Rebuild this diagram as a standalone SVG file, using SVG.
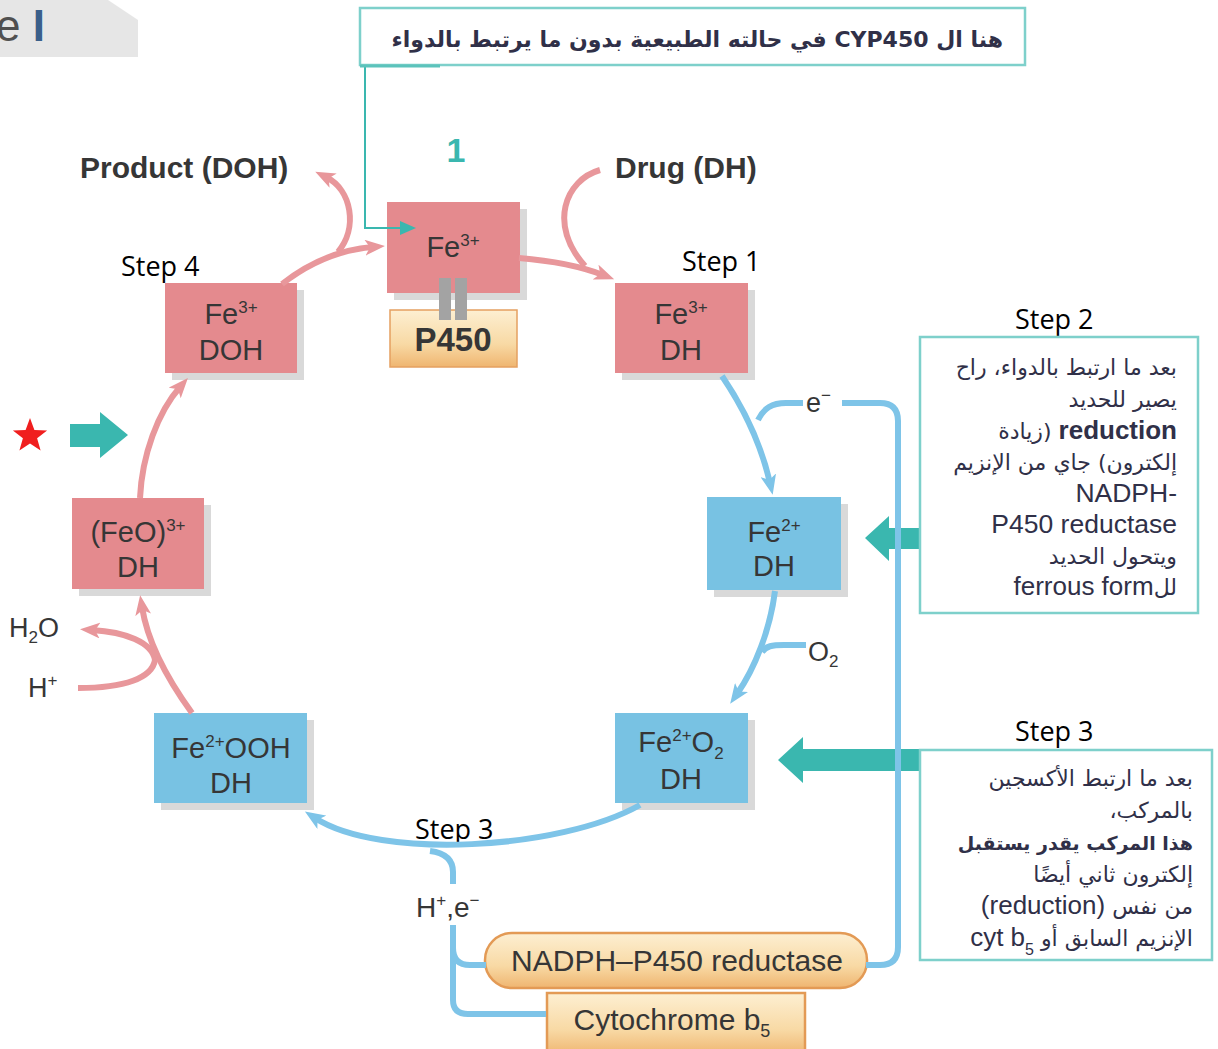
<svg xmlns="http://www.w3.org/2000/svg" width="1218" height="1049" viewBox="0 0 1218 1049">
<defs>
<style>
.t{font-family:"Liberation Sans","DejaVu Sans",sans-serif;fill:#363636}
.nd{font-size:29px;text-anchor:middle}
.lb{font-size:27px}
.sup{font-size:17px}
.pk{fill:#E48A8E}
.bl{fill:#78C2E3}
.sh{fill:#D9D9D9}
.cp{fill:none;stroke:#E8979B;stroke-width:6}
.cb{fill:none;stroke:#7EC4E8;stroke-width:6}
.step{font-family:"Open Sans","Liberation Sans",sans-serif;font-size:27px;fill:#000}
.ar{font-family:"DejaVu Sans",sans-serif;font-size:22px;fill:#303048;direction:rtl;text-anchor:start}
.en{font-family:"Liberation Sans",sans-serif;font-size:26.5px;fill:#303048;text-anchor:end}
.box{fill:#fff;stroke:#7ED0CB;stroke-width:2.5}
.teal{fill:#3AB7AF}
</style>
<marker id="ap" viewBox="0 0 20 16" refX="8" refY="8" markerWidth="20" markerHeight="16" markerUnits="userSpaceOnUse" orient="auto"><path d="M0,0 L20,8 L0,16 L5,8 z" fill="#E8979B"/></marker>
<marker id="ab" viewBox="0 0 20 16" refX="8" refY="8" markerWidth="20" markerHeight="16" markerUnits="userSpaceOnUse" orient="auto"><path d="M0,0 L20,8 L0,16 L5,8 z" fill="#7EC4E8"/></marker>
<marker id="at" viewBox="0 0 16 14" refX="4" refY="7" markerWidth="16" markerHeight="14" markerUnits="userSpaceOnUse" orient="auto"><path d="M0,0 L16,7 L0,14 z" fill="#3AB7AF"/></marker>
<linearGradient id="tan" x1="0" y1="0" x2="0" y2="1"><stop offset="0" stop-color="#FDEFD2"/><stop offset="0.6" stop-color="#F8D9A4"/><stop offset="1" stop-color="#EFB570"/></linearGradient>
</defs>
<rect width="1218" height="1049" fill="#fff"/>

<g id="tab">
<polygon points="0,0 108,0 138,20 138,57 0,57" fill="#E6E6E6"/>
<text x="-4" y="41" font-family="Liberation Sans,sans-serif" font-size="44"><tspan fill="#505050">e</tspan><tspan fill="#3A5F8A" font-weight="bold"> I</tspan></text>
</g>

<g id="banner">
<rect class="box" x="360" y="8" width="665" height="57"/>
<text class="ar" x="1003" y="47" font-weight="bold">هنا ال CYP450 في حالته الطبيعية بدون ما يرتبط بالدواء</text>
</g>

<g id="node-fe3-top">
<rect class="sh" x="394" y="209" width="133" height="91"/>
<rect class="pk" x="387" y="202" width="133" height="91"/>
<text class="t nd" x="453" y="257">Fe<tspan class="sup" dy="-11">3+</tspan></text>
</g>
<g id="node-p450">
<rect x="390" y="310" width="127" height="57" fill="url(#tan)" stroke="#E5A060" stroke-width="1.5"/>
<rect x="439" y="278" width="12" height="42" fill="#A3A3A3"/>
<rect x="455" y="278" width="12" height="42" fill="#A3A3A3"/>
<text class="t" x="453" y="351" font-size="33" font-weight="bold" text-anchor="middle">P450</text>
</g>
<g id="node-fe3-dh">
<rect class="sh" x="622" y="290" width="133" height="90"/>
<rect class="pk" x="615" y="283" width="133" height="90"/>
<text class="t nd" x="681" y="324">Fe<tspan class="sup" dy="-11">3+</tspan></text>
<text class="t nd" x="681" y="360">DH</text>
</g>
<g id="node-fe3-doh">
<rect class="sh" x="172" y="290" width="132" height="90"/>
<rect class="pk" x="165" y="283" width="132" height="90"/>
<text class="t nd" x="231" y="324">Fe<tspan class="sup" dy="-11">3+</tspan></text>
<text class="t nd" x="231" y="360">DOH</text>
</g>
<g id="node-feo-dh">
<rect class="sh" x="79" y="505" width="132" height="91"/>
<rect class="pk" x="72" y="498" width="132" height="91"/>
<text class="t nd" x="138" y="542">(FeO)<tspan class="sup" dy="-11">3+</tspan></text>
<text class="t nd" x="138" y="577">DH</text>
</g>
<g id="node-fe2-dh">
<rect class="sh" x="714" y="504" width="134" height="93"/>
<rect class="bl" x="707" y="497" width="134" height="93"/>
<text class="t nd" x="774" y="542">Fe<tspan class="sup" dy="-11">2+</tspan></text>
<text class="t nd" x="774" y="576">DH</text>
</g>
<g id="node-fe2o2-dh">
<rect class="sh" x="622" y="720" width="133" height="90"/>
<rect class="bl" x="615" y="713" width="133" height="90"/>
<text class="t nd" x="681" y="752">Fe<tspan class="sup" dy="-11">2+</tspan><tspan dy="11">O</tspan><tspan class="sup" dy="7">2</tspan></text>
<text class="t nd" x="681" y="789">DH</text>
</g>
<g id="node-fe2ooh-dh">
<rect class="sh" x="161" y="720" width="153" height="90"/>
<rect class="bl" x="154" y="713" width="153" height="90"/>
<text class="t nd" x="231" y="758">Fe<tspan class="sup" dy="-11">2+</tspan><tspan dy="11">OOH</tspan></text>
<text class="t nd" x="231" y="793">DH</text>
</g>
<g id="node-nadph">
<rect x="485" y="933" width="382" height="55" rx="27" fill="url(#tan)" stroke="#E39A55" stroke-width="2.5"/>
<text class="t" x="677" y="971" font-size="30" text-anchor="middle">NADPH–P450 reductase</text>
</g>
<g id="node-cytb5">
<rect x="547" y="993" width="258" height="62" fill="url(#tan)" stroke="#E39A55" stroke-width="2.5"/>
<text class="t" x="672" y="1030" font-size="30" text-anchor="middle">Cytochrome b<tspan font-size="18" dy="7">5</tspan></text>
</g>

<g id="labels">
<text class="t" x="80" y="178" font-size="30" font-weight="bold">Product (DOH)</text>
<text class="t" x="615" y="178" font-size="30" font-weight="bold">Drug (DH)</text>
<text x="456" y="162" font-family="Liberation Sans,sans-serif" font-size="34" font-weight="bold" text-anchor="middle" fill="#3AB7AF">1</text>
<text class="t lb" x="9" y="637">H<tspan class="sup" dy="6">2</tspan><tspan dy="-6">O</tspan></text>
<text class="t lb" x="28" y="697">H<tspan class="sup" dy="-11">+</tspan></text>
<text class="t lb" x="806" y="412">e<tspan class="sup" dy="-11">−</tspan></text>
<text class="t lb" x="808" y="661">O<tspan class="sup" dy="6">2</tspan></text>
<text class="t lb" x="416" y="917" style="font-size:28px">H<tspan class="sup" dy="-11">+</tspan><tspan dy="11">,e</tspan><tspan class="sup" dy="-11">−</tspan></text>
<text class="step" x="121" y="276">Step 4</text>
<text class="step" x="682" y="271">Step 1</text>
<text class="step" x="1015" y="329">Step 2</text>
<text class="step" x="1015" y="741">Step 3</text>
<text class="step" x="415" y="839">Step 3</text>
</g>

<g id="markers-left">
<polygon points="30,418 34.4,429.9 47.1,430.4 37.1,438.3 40.6,450.6 30,443.5 19.4,450.6 22.9,438.3 12.9,430.4 25.6,429.9" fill="#F01E1E"/>
<polygon class="teal" points="128,435 100,412 100,424 70,424 70,447 100,447 100,458"/>
</g>

<g id="step2-note">
<polygon class="teal" points="865,538 889,516 889,528 922,528 922,549 889,549 889,561"/>
<rect class="box" x="920" y="337" width="278" height="276"/>
<text class="ar" x="1177" y="375">بعد ما ارتبط بالدواء، راح</text>
<text class="ar" x="1177" y="407">يصير للحديد</text>
<text class="ar" x="1177" y="439"><tspan font-family="Liberation Sans" font-size="26" font-weight="bold">reduction</tspan> (زيادة</text>
<text class="ar" x="1177" y="470">إلكترون) جاي من الإنزيم</text>
<text class="en" x="1177" y="502">NADPH-</text>
<text class="en" x="1177" y="533">P450 reductase</text>
<text class="ar" x="1177" y="564">ويتحول الحديد</text>
<text class="ar" x="1177" y="595">لل<tspan font-family="Liberation Sans" font-size="26">ferrous form</tspan></text>
</g>

<g id="step3-note">
<polygon class="teal" points="778,760 803,737 803,749 922,749 922,771 803,771 803,783"/>
<rect class="box" x="920" y="750" width="292" height="210"/>
<text class="ar" x="1193" y="786">بعد ما ارتبط الأكسجين</text>
<text class="ar" x="1193" y="818">بالمركب،</text>
<text class="ar" x="1193" y="850" font-weight="bold" style="font-size:19px">هذا المركب يقدر يستقبل</text>
<text class="ar" x="1193" y="882">إلكترون ثاني أيضًا</text>
<text class="ar" x="1193" y="914">من نفس <tspan font-family="Liberation Sans" font-size="26">(reduction)</tspan></text>
<text class="ar" x="1193" y="946">الإنزيم السابق أو <tspan font-family="Liberation Sans" font-size="26">cyt b</tspan><tspan font-family="Liberation Sans" font-size="16" baseline-shift="sub">5</tspan></text>
</g>

<g id="connectors">
<path class="cp" d="M519,258 C555,261 580,266 603,275" marker-end="url(#ap)"/>
<path class="cp" d="M600,170 C565,180 548,225 585,266"/>
<path class="cp" d="M282,284 C305,266 335,250 373,247" marker-end="url(#ap)"/>
<path class="cp" d="M338,252 C358,228 352,190 326,177" marker-end="url(#ap)"/>
<path class="cp" d="M140,498 C142,455 158,412 180,387" marker-end="url(#ap)"/>
<path class="cp" d="M192,713 C168,680 148,645 142,607" marker-end="url(#ap)"/>
<path class="cp" d="M78,688 C125,688 152,678 155,660 C152,642 125,632 92,630" marker-end="url(#ap)"/>
<path class="cb" d="M722,376 C745,410 762,448 770,483" marker-end="url(#ab)"/>
<path class="cb" d="M758,420 C764,408 772,403 786,403 L803,403"/>
<path class="cb" d="M842,403 L880,403 Q898,403 898,421 L898,947 Q898,965 880,965 L866,965"/>
<path class="cb" d="M775,591 C770,630 755,668 737,694" marker-end="url(#ab)"/>
<path class="cb" d="M762,652 C766,646 772,645 784,645 L806,645"/>
<path class="cb" d="M640,805 C560,850 380,860 315,818" marker-end="url(#ab)"/>
<path class="cb" d="M430,851 Q453,854 453,872 L453,884"/>
<path class="cb" d="M453,925 L453,1000 Q453,1014 468,1014 L546,1014"/>
<path class="cb" d="M453,948 Q453,965 470,965 L486,965"/>
<path d="M365,66 L365,228 L404,228" fill="none" stroke="#3AB7AF" stroke-width="2" marker-end="url(#at)"/>
<line x1="360" y1="66" x2="440" y2="66" stroke="#5CC3BC" stroke-width="3"/>
</g>
</svg>
